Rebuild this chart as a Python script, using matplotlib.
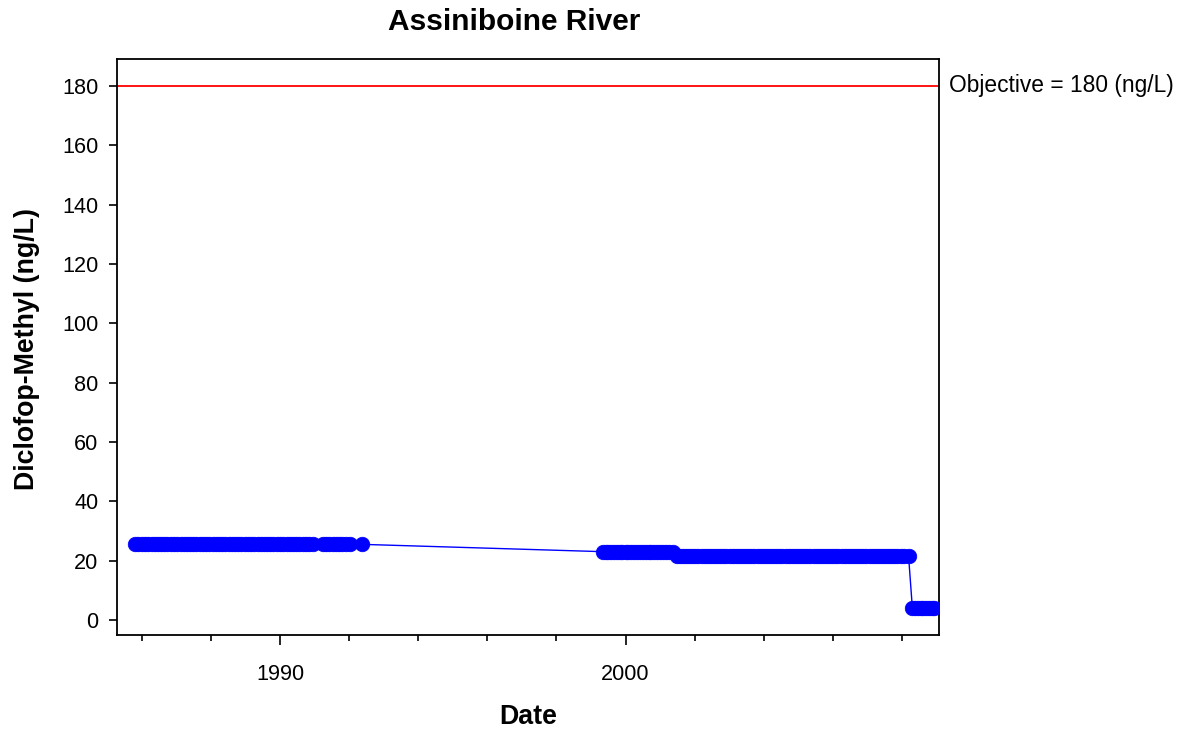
import matplotlib
matplotlib.use("Agg")
import matplotlib.pyplot as plt
from matplotlib.ticker import FixedLocator, NullFormatter

plt.rcParams['font.family'] = ['Liberation Sans', 'DejaVu Sans']

# ---- data (decimal years, ng/L) ----
dates_a = [1985.80, 1985.90, 1986.00, 1986.08, 1986.18, 1986.28, 1986.37, 1986.46,
           1986.55, 1986.64, 1986.74, 1986.83, 1986.92, 1987.02, 1987.12, 1987.21,
           1987.30, 1987.40, 1987.49, 1987.58, 1987.67, 1987.77, 1987.86, 1987.95,
           1988.05, 1988.14, 1988.23, 1988.33, 1988.42, 1988.51, 1988.60, 1988.70,
           1988.79, 1988.88, 1988.98, 1989.07, 1989.16, 1989.26, 1989.35, 1989.44,
           1989.53, 1989.63, 1989.72, 1989.81, 1989.91, 1990.00, 1990.09, 1990.19,
           1990.28, 1990.37, 1990.46, 1990.56, 1990.65, 1990.74, 1990.84, 1990.96,
           1991.25, 1991.34, 1991.43, 1991.52, 1991.61, 1991.70, 1991.80, 1991.90,
           1992.03, 1992.36]
vals_a = [25.5] * len(dates_a)

dates_b = [1999.34, 1999.42, 1999.50, 1999.58, 1999.66, 1999.75, 1999.83, 1999.91,
           2000.00, 2000.08, 2000.17, 2000.25, 2000.33, 2000.42, 2000.50, 2000.58,
           2000.67, 2000.75, 2000.83, 2000.92, 2001.00, 2001.08, 2001.17, 2001.25,
           2001.37]
vals_b = [23.0] * len(dates_b)

dates_c = [2001.48, 2001.57, 2001.66, 2001.75, 2001.84, 2001.93, 2002.02, 2002.11,
           2002.20, 2002.29, 2002.38, 2002.47, 2002.56, 2002.65, 2002.74, 2002.83,
           2002.92, 2003.01, 2003.10, 2003.19, 2003.28, 2003.37, 2003.46, 2003.55,
           2003.64, 2003.73, 2003.82, 2003.91, 2004.00, 2004.09, 2004.18, 2004.27,
           2004.36, 2004.45, 2004.54, 2004.63, 2004.72, 2004.81, 2004.90, 2004.99,
           2005.08, 2005.17, 2005.26, 2005.35, 2005.44, 2005.53, 2005.62, 2005.71,
           2005.80, 2005.89, 2005.98, 2006.07, 2006.16, 2006.25, 2006.34, 2006.43,
           2006.52, 2006.61, 2006.70, 2006.79, 2006.88, 2006.97, 2007.06, 2007.15,
           2007.24, 2007.33, 2007.42, 2007.51, 2007.60, 2007.69, 2007.78, 2007.87,
           2007.96, 2008.05, 2008.19]
vals_c = [21.6] * len(dates_c)

dates_d = [2008.30, 2008.38, 2008.46, 2008.54, 2008.62, 2008.70, 2008.78, 2008.86,
           2008.94]
vals_d = [4.1] * len(dates_d)

dates = dates_a + dates_b + dates_c + dates_d
values = vals_a + vals_b + vals_c + vals_d

objective = 180
major_years = [1990, 2000]
minor_years = [1986, 1988, 1992, 1994, 1996, 1998, 2002, 2004, 2006, 2008]
y_ticks = [0, 20, 40, 60, 80, 100, 120, 140, 160, 180]

title = "Assiniboine River"
xlabel = "Date"
ylabel = "Diclofop-Methyl (ng/L)"
obj_label = "Objective = 180 (ng/L)"

# ---- figure ----
fig = plt.figure(figsize=(11.85, 7.31), dpi=100)
ax = fig.add_axes([117.3 / 1185, 1 - 635 / 731, (939.3 - 117.3) / 1185, (635 - 59) / 731])

ax.axhline(objective, color='#ff0000', lw=1.3, zorder=2)
ax.plot(dates, values, color='#0000ff', lw=1.0, marker='o', markersize=10.5,
        markerfacecolor='#0000ff', markeredgecolor='#0000ff', markeredgewidth=0.5, zorder=3)

ax.set_xlim(1985.29, 2009.08)
ax.set_ylim(-5.06, 189.1)

ax.xaxis.set_major_locator(FixedLocator(major_years))
ax.xaxis.set_minor_locator(FixedLocator(minor_years))
ax.xaxis.set_minor_formatter(NullFormatter())
ax.set_xticklabels([str(y) for y in major_years])
ax.set_yticks(y_ticks)

ax.tick_params(axis='x', which='major', direction='out', length=7, width=1.2,
               labelsize=15.6, pad=14, color='black')
ax.tick_params(axis='x', which='minor', direction='out', length=4.3, width=1.2, color='black')
ax.tick_params(axis='y', which='major', direction='out', length=5.8, width=1.2,
               labelsize=15.6, pad=8, color='black')

for s in ax.spines.values():
    s.set_linewidth(1.3)
    s.set_color('black')

fig.text(514 / 1185, 1 - 22 / 731, title, ha='center', va='center',
         fontsize=21.5, fontweight='bold')
fig.text(528 / 1185, 1 - 717 / 731, xlabel, ha='center', va='center',
         fontsize=19.3, fontweight='bold')
fig.text(27 / 1185, 1 - 349 / 731, ylabel, ha='center', va='center', rotation=90,
         fontsize=19.3, fontweight='bold')

ax.text(1.012, objective, obj_label, transform=ax.get_yaxis_transform(),
        ha='left', va='center', fontsize=16.4, clip_on=False)

fig.savefig("out.png", dpi=100)
